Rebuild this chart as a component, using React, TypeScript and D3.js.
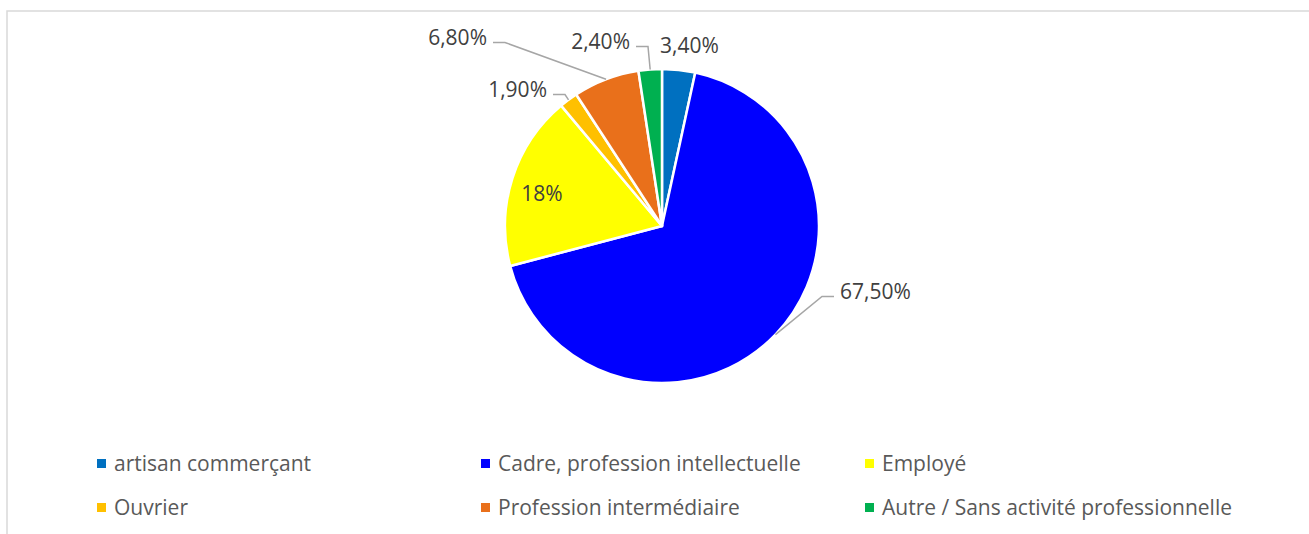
import { pie, arc } from "d3"

const categories = [
  "artisan commerçant",
  "Cadre, profession intellectuelle",
  "Employé",
  "Ouvrier",
  "Profession intermédiaire",
  "Autre / Sans activité professionnelle",
]
const values = [3.4, 67.5, 18, 1.9, 6.8, 2.4]
const valueLabels = ["3,40%", "67,50%", "18%", "1,90%", "6,80%", "2,40%"]
const sliceColors = ["#0070C0", "#0000FF", "#FFFF00", "#FFC000", "#E9701B", "#00B050"]

// where each data label sits, relative to the pie centre
const labelSpots: { dx: number; dy: number; anchor: "start" | "middle" | "end"; leader: boolean }[] = [
  { dx: -2, dy: -173, anchor: "start", leader: false },
  { dx: 178, dy: 73, anchor: "start", leader: true },
  { dx: -120, dy: -25, anchor: "middle", leader: false },
  { dx: -115, dy: -129, anchor: "end", leader: true },
  { dx: -175, dy: -181, anchor: "end", leader: true },
  { dx: -32, dy: -177, anchor: "end", leader: true },
]

export default function App() {
  const width = 1309
  const height = 534
  const cx = 662
  const cy = 226
  const radius = 157
  const font = "'Open Sans', 'Noto Sans', sans-serif"

  const pieLayout = pie<number>()
    .value((d) => d)
    .sort(null)
  const arcs = pieLayout(values)

  const arcGenerator = arc<any>().innerRadius(0).outerRadius(radius)
  const arcEdge = arc<any>().innerRadius(radius).outerRadius(radius)

  return (
    <svg
      width={width}
      height={height}
      style={{ position: "absolute", left: 0, top: 0, background: "#fff" }}
    >
      <rect x={7} y={11} width={1320} height={600} fill="#fff" stroke="#d9d9d9" strokeWidth={1.5} />
      <g transform={`translate(${cx},${cy})`}>
        {arcs.map((d, i) => (
          <path
            key={i}
            d={arcGenerator(d) || undefined}
            fill={sliceColors[i]}
            stroke="#ffffff"
            strokeWidth={2.5}
            strokeLinejoin="round"
          />
        ))}
        {arcs.map((d, i) => {
          const spot = labelSpots[i]
          const [ex, ey] = arcEdge.centroid(d)
          const side = spot.anchor === "start" ? -1 : 1
          const ly = spot.dy - 2.5
          const lineEnd = spot.dx + side * 6
          const elbow = lineEnd + side * 12
          return (
            <g key={i}>
              {spot.leader && (
                <polyline
                  points={`${ex},${ey} ${elbow},${ly} ${lineEnd},${ly}`}
                  fill="none"
                  stroke="#a6a6a6"
                  strokeWidth={1.5}
                />
              )}
              <text
                x={spot.dx}
                y={spot.dy}
                textAnchor={spot.anchor}
                fontFamily={font}
                fontSize={21}
                fill="#404040"
              >
                {valueLabels[i]}
              </text>
            </g>
          )
        })}
      </g>
      <g>
        {categories.map((name, i) => {
          const col = i % 3
          const row = Math.floor(i / 3)
          const x = 97 + col * 384
          const y = 471 + row * 44
          return (
            <g key={name} transform={`translate(${x},${y})`}>
              <rect x={0} y={-12} width={9} height={9} fill={sliceColors[i]} />
              <text x={17} y={0} fontFamily={font} fontSize={21} fill="#595959">
                {name}
              </text>
            </g>
          )
        })}
      </g>
    </svg>
  )
}
